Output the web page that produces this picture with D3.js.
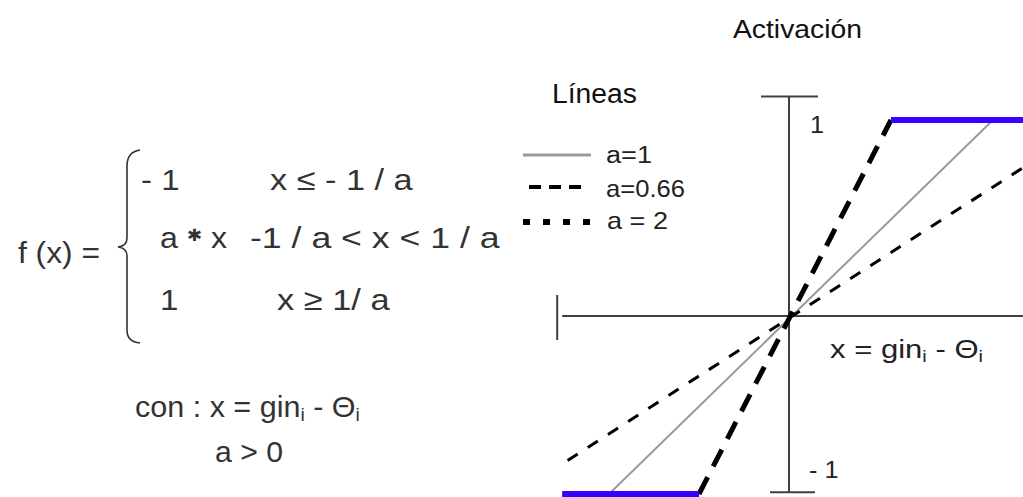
<!DOCTYPE html>
<html>
<head>
<meta charset="utf-8">
<script src="https://cdn.jsdelivr.net/npm/d3@7"></script>
<style>
  html, body { margin: 0; padding: 0; background: #fff; }
  svg { display: block; }
  text { font-family: "Liberation Sans", Arial, sans-serif; }
</style>
</head>
<body>
<svg id="chart" width="1023" height="497"></svg>
<script>
// Piecewise linear activation f(x) for three gains a.
const gains = [1, 0.66, 2];
const gainLabels = ["a=1", "a=0.66", "a = 2"];
// x range over which each ramp is drawn
const rampFrom = [-1, -1.23, -0.5];
const rampTo = [1, 1.16, 0.5];
// saturation levels and their drawn x extents
const satLevels = [1, -1];
const satFrom = [0.5, -1.26];
const satTo = [1.17, -0.5];
// axis tick labels
const yTickValues = [1, -1];
const yTickLabels = ["1", "- 1"];

const svg = d3.select("#chart");
const W = 1023, H = 497;
svg.append("rect").attr("width", W).attr("height", H).attr("fill", "#fff");

// scales (the drawing is slightly wider on the right and taller on top)
const x = d3.scaleLinear().domain([-1, 0, 1]).range([609, 789, 993]);
const y = d3.scaleLinear().domain([-1, 0, 1]).range([494, 316, 120]);

// text stretched horizontally, either to a given width or by a default factor
function fitText(g, parts, px, py, size, width, fill) {
  const t = g.append("text").attr("font-size", size).attr("fill", fill || "#111");
  parts.forEach(p => {
    if (typeof p === "string") t.append("tspan").text(p);
    else {
      const s = t.append("tspan").text(p.t);
      if (p.size) s.attr("font-size", p.size);
      if (p.dy) s.attr("dy", p.dy);
      if (p.family) s.attr("font-family", p.family);
    }
  });
  const b = t.node().getBBox();
  const k = width ? width / b.width : 1.1;
  t.attr("transform", `translate(${px - b.x * k},${py}) scale(${k},1)`);
  return t;
}

// ---- formula on the left ----
const fg = svg.append("g");
const fc = "#333";
fitText(fg, ["f (x) ="], 18, 263, 30, 82, fc);
fitText(fg, ["- 1"], 141, 190, 30, null, fc);
fitText(fg, ["x ≤ - 1 / a"], 270, 190, 30, 143, fc);
fitText(fg, ["a ", {t: "✱", size: 17, dy: -7, family: "DejaVu Sans"}, {t: " x", dy: 7}], 160, 248, 30, 67, fc);
fitText(fg, ["-1 / a < x  < 1 / a"], 250, 248, 30, 250, fc);
fitText(fg, ["1"], 160, 310, 30, null, fc);
fitText(fg, ["x ≥  1/ a"], 277, 310, 30, 113, fc);
fitText(fg, ["con : x = gin", {t: "i", size: 19, dy: 4}, {t: " - ", dy: -4}, "Θ", {t: "i", size: 19, dy: 4}], 135, 417, 30, 225, fc);
fitText(fg, ["a > 0"], 215, 462, 30, 68, fc);

// curly brace
const bp = d3.path();
bp.moveTo(140, 150);
bp.quadraticCurveTo(127, 152, 127, 166);
bp.lineTo(127, 238);
bp.quadraticCurveTo(127, 246, 118, 247);
bp.quadraticCurveTo(127, 248, 127, 256);
bp.lineTo(127, 330);
bp.quadraticCurveTo(127, 342, 140, 343);
fg.append("path").attr("d", bp.toString()).attr("fill", "none")
  .attr("stroke", "#333").attr("stroke-width", 1.6);

// ---- titles ----
fitText(svg, ["Activación"], 733, 38, 25, 129, "#111");
fitText(svg, ["Líneas"], 552, 103, 27, 85, "#111");

// ---- axes ----
const axisColor = "#404040";
const ax = svg.append("g").attr("stroke", axisColor).attr("stroke-width", 2).attr("fill", "none");
ax.append("line").attr("x1", x(0)).attr("x2", x(0)).attr("y1", y(1.12)).attr("y2", y(-0.99));
ax.append("line").attr("x1", x(0) - 28).attr("x2", x(0) + 29).attr("y1", y(1.12)).attr("y2", y(1.12));
ax.append("line").attr("x1", x(0) - 19).attr("x2", x(0) + 26).attr("y1", y(-0.99)).attr("y2", y(-0.99));
ax.append("line").attr("x1", x(-1.26)).attr("x2", W).attr("y1", y(0)).attr("y2", y(0));
ax.append("line").attr("x1", x(-1.26) - 5).attr("x2", x(-1.26) - 5).attr("y1", y(0) - 21).attr("y2", y(0) + 24);

// y tick labels
yTickValues.forEach((v, i) => {
  const off = v > 0 ? 13 : -16;
  fitText(svg, [yTickLabels[i]], v > 0 ? 810 : 809, y(v) + off, 23, null, "#222");
});

// x axis label
fitText(svg, ["x = gin", {t: "i", size: 16, dy: 4}, {t: " - ", dy: -4}, "Θ", {t: "i", size: 16, dy: 4}], 830, 358, 25, 153, "#222");

// ---- series ----
const styles = [
  {stroke: "#9a9a9a", width: 2, dash: null},
  {stroke: "#000", width: 3, dash: "12,12"},
  {stroke: "#000", width: 5, dash: "19,12"}
];
const line = d3.line().x(d => x(d[0])).y(d => y(d[1]));
const plot = svg.append("g");
plot.append("clipPath").attr("id", "clip").append("rect").attr("x", 0).attr("y", 0).attr("width", W).attr("height", H);

gains.forEach((a, i) => {
  const pts = [[rampFrom[i], a * rampFrom[i]], [rampTo[i], a * rampTo[i]]];
  const p = plot.append("path").datum(pts).attr("d", line)
    .attr("fill", "none").attr("stroke", styles[i].stroke)
    .attr("stroke-width", styles[i].width).attr("clip-path", "url(#clip)");
  if (styles[i].dash) p.attr("stroke-dasharray", styles[i].dash);
});

// saturation segments
satLevels.forEach((v, i) => {
  plot.append("path").datum([[satFrom[i], v], [satTo[i], v]]).attr("d", line)
    .attr("fill", "none").attr("stroke", "#3a00ff").attr("stroke-width", 6)
    .attr("clip-path", "url(#clip)");
});

// ---- legend ----
const lg = svg.append("g");
const legendRows = [
  {x1: 523, x2: 591, y: 155, dash: null, w: 3, c: "#9a9a9a", tx: 606, ty: 163, tw: 46},
  {x1: 529, x2: 582, y: 187, dash: "12,8", w: 4, c: "#000", tx: 606, ty: 197, tw: 79},
  {x1: 523, x2: 591, y: 222, dash: "7,13", w: 6, c: "#000", tx: 607, ty: 229, tw: 61}
];
legendRows.forEach((r, i) => {
  const l = lg.append("line").attr("x1", r.x1).attr("x2", r.x2).attr("y1", r.y).attr("y2", r.y)
    .attr("stroke", r.c).attr("stroke-width", r.w);
  if (r.dash) l.attr("stroke-dasharray", r.dash);
  fitText(lg, [gainLabels[i]], r.tx, r.ty, 23, r.tw, "#222");
});
</script>
</body>
</html>
